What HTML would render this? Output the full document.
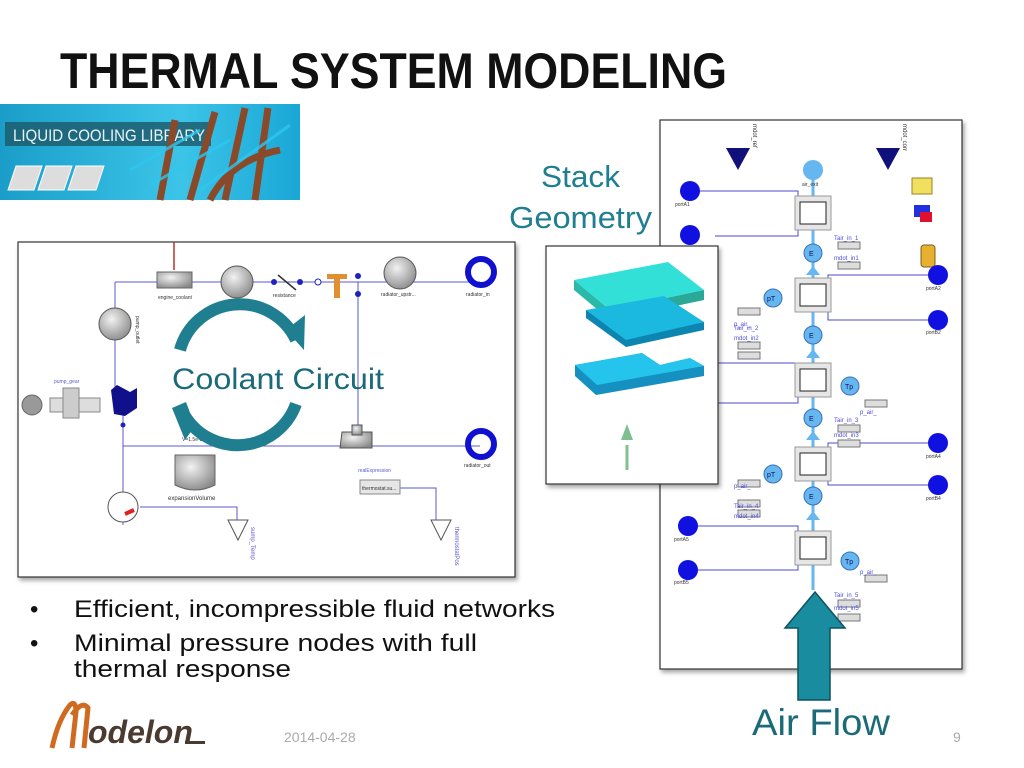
<!DOCTYPE html>
<html><head><meta charset="utf-8"><style>
html,body{margin:0;padding:0;background:#fff;}
svg{display:block;font-family:"Liberation Sans",sans-serif;}
</style></head><body>
<svg width="1024" height="768" viewBox="0 0 1024 768" xmlns="http://www.w3.org/2000/svg">
<defs>
<linearGradient id="ban" x1="0" x2="1" y1="0" y2="0"><stop offset="0" stop-color="#1a9ec9"/><stop offset="0.6" stop-color="#3cc4e8"/><stop offset="1" stop-color="#1aa7d6"/></linearGradient>
<radialGradient id="gb" cx="0.4" cy="0.35" r="0.7"><stop offset="0" stop-color="#f2f2f2"/><stop offset="1" stop-color="#8a8a8a"/></radialGradient>
<filter id="sh" x="-5%" y="-5%" width="110%" height="110%"><feDropShadow dx="2" dy="3" stdDeviation="2" flood-color="#000" flood-opacity="0.35"/></filter>
</defs>
<rect width="1024" height="768" fill="#fff"/>
<text x="60" y="88" font-size="50" font-weight="bold" fill="#111" textLength="667" lengthAdjust="spacingAndGlyphs">THERMAL SYSTEM MODELING</text>

<!-- banner -->
<rect x="0" y="104" width="300" height="96" fill="url(#ban)"/>
<rect x="5" y="122" width="206" height="24" fill="#1d5d6e" opacity="0.85"/>
<text x="13" y="141" font-size="17" fill="#e8f4f8" textLength="192" lengthAdjust="spacingAndGlyphs">LIQUID COOLING LIBRARY</text>
<g fill="#ddd" stroke="#fff" stroke-width="1"><path d="M8 190 L16 166 L42 166 L34 190Z"/><path d="M38 190 L46 166 L72 166 L64 190Z"/><path d="M68 190 L76 166 L104 166 L96 190Z"/></g>
<g stroke="#8a4a2a" stroke-width="7" fill="none"><path d="M160 200 L175 120"/><path d="M190 200 L215 112"/><path d="M225 200 L245 108"/><path d="M255 200 L268 108"/><path d="M210 200 Q230 160 280 150"/></g>
<g stroke="#2cc8f0" stroke-width="3" opacity="0.8"><path d="M130 170 L200 130"/><path d="M150 185 L230 140"/><path d="M200 190 L290 125"/></g>

<!-- left diagram -->
<rect x="18" y="242" width="497" height="335" fill="#fff" stroke="#333" stroke-width="1.2" filter="url(#sh)"/>
<g stroke="#5a5ad0" stroke-width="1" fill="none">
<path d="M115 282 H480"/><path d="M115 282 V395"/><path d="M123 395 V525"/><path d="M123 446 H480"/><path d="M358 282 V446"/>
<path d="M140 507 H237 V520"/><path d="M400 488 H436 V520"/>
</g>
<path d="M174 242 V270" stroke="#c0302a" stroke-width="1.5"/>
<rect x="157" y="272" width="35" height="16" fill="url(#gb)" stroke="#666"/>
<text x="158" y="299" font-size="5" fill="#333">engine_coolant</text>
<circle cx="237" cy="282" r="16" fill="url(#gb)" stroke="#555"/>
<text x="220" y="304" font-size="5" fill="#333">engine_outlet</text>
<path d="M278 275 L296 290" stroke="#333" stroke-width="1.5"/>
<circle cx="274" cy="282" r="3" fill="#2020c0"/><circle cx="300" cy="282" r="3" fill="#2020c0"/><circle cx="318" cy="282" r="3" fill="#fff" stroke="#2020c0"/>
<text x="273" y="297" font-size="5" fill="#333">resistance</text>
<path d="M327 274 H347 V279 H340 V298 H334 V279 H327Z" fill="#e09030"/>
<circle cx="358" cy="276" r="3" fill="#2020c0"/><circle cx="358" cy="294" r="3" fill="#2020c0"/>
<circle cx="400" cy="273" r="16" fill="url(#gb)" stroke="#555"/>
<text x="381" y="296" font-size="5" fill="#333">radiator_upstr...</text>
<circle cx="481" cy="272" r="13" fill="none" stroke="#1010d0" stroke-width="6"/>
<text x="466" y="296" font-size="5" fill="#333">radiator_in</text>
<circle cx="115" cy="324" r="16" fill="url(#gb)" stroke="#555"/>
<text x="136" y="316" font-size="5" fill="#333" transform="rotate(90 136 316)">pump_outlet</text>
<path d="M111 390 L117 385 L130 392 L137 388 L137 408 L125 416 L114 414Z" fill="#10108a"/>
<circle cx="32" cy="405" r="10" fill="#999" stroke="#666"/>
<rect x="50" y="398" width="50" height="14" fill="#ddd" stroke="#888"/>
<rect x="63" y="388" width="16" height="30" fill="#ccc" stroke="#888"/>
<text x="54" y="383" font-size="5" fill="#5a5ad0">pump_gear</text>
<circle cx="123" cy="425" r="2.5" fill="#2020c0"/>
<text x="182" y="441" font-size="5" fill="#333">V=1.5e-3</text>
<path d="M175 455 H215 V485 Q195 495 175 485Z" fill="url(#gb)" stroke="#666"/>
<text x="168" y="500" font-size="6" fill="#333">expansionVolume</text>
<circle cx="123" cy="507" r="15" fill="#fff" stroke="#555"/>
<path d="M125 514 L134 510" stroke="#e02020" stroke-width="4"/>
<path d="M228 520 H248 L238 540Z" fill="#fff" stroke="#555"/>
<text x="251" y="527" font-size="6" fill="#5a5ad0" transform="rotate(90 251 527)">sump_Temp</text>
<path d="M342 432 H372 V448 H340Z" fill="url(#gb)" stroke="#555"/>
<rect x="352" y="425" width="10" height="10" fill="url(#gb)" stroke="#555"/>
<text x="358" y="472" font-size="5" fill="#5a5ad0">realExpression</text>
<rect x="360" y="480" width="40" height="14" fill="#e6e6e6" stroke="#888"/>
<text x="362" y="490" font-size="5" fill="#333">thermostat.su...</text>
<circle cx="481" cy="444" r="13" fill="none" stroke="#1010d0" stroke-width="6"/>
<text x="464" y="467" font-size="5" fill="#333">radiator_out</text>
<path d="M431 520 H451 L441 540Z" fill="#fff" stroke="#555"/>
<text x="455" y="527" font-size="6" fill="#5a5ad0" transform="rotate(90 455 527)">thermostatPos</text>
<!-- circular arrows -->
<path d="M180 350 A62 62 0 0 1 296 340" fill="none" stroke="#1f7f90" stroke-width="12"/>
<path d="M286 330 L305 315 L304 350Z" fill="#1f7f90"/>
<path d="M296 404 A62 62 0 0 1 185 416" fill="none" stroke="#1f7f90" stroke-width="12"/>
<path d="M195 426 L186 402 L172 408 L185 440Z" fill="#1f7f90"/>
<text x="172" y="389" font-size="30" fill="#1b6a7a" textLength="212" lengthAdjust="spacingAndGlyphs">Coolant Circuit</text>

<!-- Stack Geometry -->
<text x="541" y="187" font-size="31" fill="#1f7f90" textLength="79" lengthAdjust="spacingAndGlyphs">Stack</text>
<text x="509" y="228" font-size="31" fill="#1f7f90" textLength="143" lengthAdjust="spacingAndGlyphs">Geometry</text>

<!-- right diagram -->
<rect x="660" y="120" width="302" height="549" fill="#fff" stroke="#333" stroke-width="1.2" filter="url(#sh)"/>
<g stroke="#4a4acc" stroke-width="1" fill="none">
<path d="M690 191 H798 V236 H715"/><path d="M938 275 H828 V320 H938"/>
<path d="M700 363 H798 V403 H700"/><path d="M938 443 H828 V485 H938"/>
<path d="M688 526 H798 V570 H688"/>
</g>
<path d="M813 175 V590" stroke="#66b6f0" stroke-width="3"/>
<g fill="#66b6f0"><path d="M806 275 L813 266 L820 275Z"/><path d="M806 358 L813 349 L820 358Z"/><path d="M806 440 L813 431 L820 440Z"/><path d="M806 520 L813 511 L820 520Z"/></g>
<path d="M726 148 H750 L738 170Z" fill="#10107a"/>
<path d="M876 148 H900 L888 170Z" fill="#10107a"/>
<text x="753" y="124" font-size="6" fill="#333" transform="rotate(90 753 124)">mdot_ref</text>
<text x="903" y="124" font-size="6" fill="#333" transform="rotate(90 903 124)">mdot_corr</text>
<circle cx="813" cy="170" r="10" fill="#66b6f0"/>
<text x="802" y="186" font-size="5" fill="#333">air_exit</text>
<rect x="912" y="178" width="20" height="16" fill="#f0e060" stroke="#a08020"/>
<rect x="914" y="205" width="16" height="12" fill="#2030e0"/><rect x="920" y="212" width="12" height="10" fill="#e01030"/>
<rect x="921" y="245" width="14" height="22" rx="3" fill="#e8b030" stroke="#806010"/>
<g>
<circle cx="690" cy="191" r="10" fill="#1010e0"/><text x="675" y="206" font-size="5" fill="#333">portA1</text>
<circle cx="690" cy="235" r="10" fill="#1010e0"/>
<circle cx="938" cy="275" r="10" fill="#1010e0"/><text x="926" y="290" font-size="5" fill="#333">portA2</text>
<circle cx="938" cy="320" r="10" fill="#1010e0"/><text x="926" y="334" font-size="5" fill="#333">portB2</text>
<circle cx="938" cy="443" r="10" fill="#1010e0"/><text x="926" y="458" font-size="5" fill="#333">portA4</text>
<circle cx="938" cy="485" r="10" fill="#1010e0"/><text x="926" y="500" font-size="5" fill="#333">portB4</text>
<circle cx="688" cy="526" r="10" fill="#1010e0"/><text x="674" y="541" font-size="5" fill="#333">portA5</text>
<circle cx="688" cy="570" r="10" fill="#1010e0"/><text x="674" y="584" font-size="5" fill="#333">portB5</text>
</g>
<g stroke="#999" fill="#e6e6e6">
<rect x="795" y="196" width="36" height="34"/><rect x="795" y="278" width="36" height="34"/><rect x="795" y="363" width="36" height="34"/><rect x="795" y="447" width="36" height="34"/><rect x="795" y="531" width="36" height="34"/>
</g>
<g stroke="#222" fill="#fff">
<rect x="800" y="202" width="26" height="22"/><rect x="800" y="284" width="26" height="22"/><rect x="800" y="369" width="26" height="22"/><rect x="800" y="453" width="26" height="22"/><rect x="800" y="537" width="26" height="22"/>
</g>
<g fill="#66b6f0" stroke="#3a70c0">
<circle cx="813" cy="253" r="9"/><circle cx="813" cy="335" r="9"/><circle cx="813" cy="418" r="9"/><circle cx="813" cy="496" r="9"/>
<circle cx="773" cy="298" r="9"/><circle cx="850" cy="386" r="9"/><circle cx="773" cy="474" r="9"/><circle cx="850" cy="561" r="9"/>
</g>
<g font-size="7" fill="#10105a"><text x="809" y="256">E</text><text x="809" y="338">E</text><text x="809" y="421">E</text><text x="809" y="499">E</text>
<text x="767" y="301">pT</text><text x="845" y="389">Tp</text><text x="767" y="477">pT</text><text x="845" y="564">Tp</text></g>
<g fill="#ddd" stroke="#777"><rect x="838" y="242" width="22" height="7"/><rect x="838" y="262" width="22" height="7"/><rect x="738" y="308" width="22" height="7"/><rect x="738" y="342" width="22" height="7"/><rect x="738" y="352" width="22" height="7"/><rect x="865" y="400" width="22" height="7"/><rect x="838" y="425" width="22" height="7"/><rect x="838" y="440" width="22" height="7"/><rect x="738" y="480" width="22" height="7"/><rect x="738" y="500" width="22" height="7"/><rect x="738" y="510" width="22" height="7"/><rect x="865" y="575" width="22" height="7"/><rect x="838" y="600" width="22" height="7"/><rect x="838" y="614" width="22" height="7"/></g>
<g font-size="6" fill="#4a4ae0"><text x="834" y="240">Tair_in_1</text><text x="834" y="260">mdot_in1</text><text x="734" y="330">Tair_in_2</text><text x="734" y="340">mdot_in2</text><text x="734" y="326">p_air_</text><text x="834" y="422">Tair_in_3</text><text x="834" y="437">mdot_in3</text><text x="734" y="508">Tair_in_4</text><text x="734" y="518">mdot_in4</text><text x="834" y="597">Tair_in_5</text><text x="834" y="610">mdot_in5</text><text x="860" y="574">p_air_</text><text x="860" y="414">p_air_</text><text x="734" y="488">p_air_</text></g>

<!-- stack box -->
<rect x="546" y="246" width="172" height="238" fill="#fff" stroke="#333" stroke-width="1.2" filter="url(#sh)"/>
<path d="M574 280 L668 262 L704 290 L610 310Z" fill="#33e0d8"/>
<path d="M574 280 L610 310 L610 320 L574 290Z" fill="#2ab8a8"/>
<path d="M610 310 L704 290 L704 300 L610 320Z" fill="#2aa898"/>
<path d="M586 310 L664 296 L704 322 L626 347Z" fill="#1bb8e0"/>
<path d="M586 310 L586 318 L626 347 L704 330 L704 322 L626 340Z" fill="#0c86b0"/>
<path d="M575 365 L642 353 L660 365 L690 358 L704 366 L704 376 L596 395 L575 376Z" fill="#1590c0"/>
<path d="M575 365 L642 353 L660 365 L690 358 L704 366 L597 385Z" fill="#24c4ec"/>
<path d="M627 445 V470" stroke="#80c090" stroke-width="3"/><path d="M621 440 L627 424 L633 440Z" fill="#80c090"/>

<!-- Air flow arrow -->
<path d="M798 700 V628 H785 L815 592 L845 628 H830 V700Z" fill="#1a8ca0" stroke="#0f5060" stroke-width="1.5"/>
<text x="752" y="735" font-size="37" fill="#1b6a7a" textLength="138" lengthAdjust="spacingAndGlyphs">Air Flow</text>

<!-- bullets -->
<g font-size="24" fill="#111">
<text x="30" y="617">•</text><text x="74" y="617" textLength="481" lengthAdjust="spacingAndGlyphs">Efficient, incompressible fluid networks</text>
<text x="30" y="651">•</text><text x="74" y="651" textLength="403" lengthAdjust="spacingAndGlyphs">Minimal pressure nodes with full</text>
<text x="74" y="677" textLength="217" lengthAdjust="spacingAndGlyphs">thermal response</text>
</g>
<!-- logo -->
<path d="M52 748 Q58 720 70 705 Q76 700 76 712 L72 748 M72 715 Q82 700 88 708 L84 748" fill="none" stroke="#d06a20" stroke-width="5"/>
<text x="88" y="743" font-size="32" font-style="italic" font-weight="bold" fill="#4a3a30">odelon</text>
<rect x="185" y="741" width="20" height="3" fill="#4a3a30"/>
<text x="284" y="742" font-size="14" fill="#aaa">2014-04-28</text>
<text x="953" y="742" font-size="14" fill="#aaa">9</text>
</svg>
</body></html>
